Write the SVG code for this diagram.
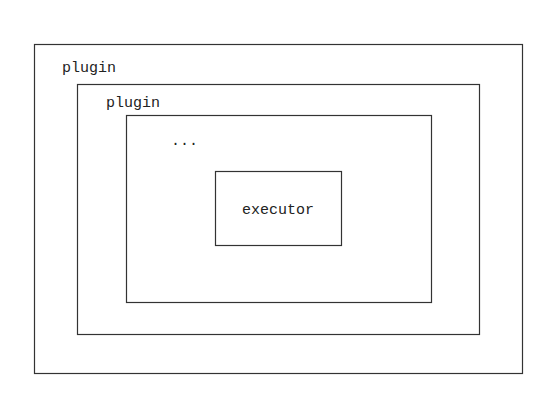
<svg xmlns="http://www.w3.org/2000/svg" width="558" height="408" viewBox="0 0 558 408">
<style>
.box{fill:none;stroke:#333;stroke-width:1.2}
.t{font-family:"Liberation Mono","DejaVu Sans Mono",monospace;font-size:15px;fill:#222}
</style>
<rect width="558" height="408" fill="#fff"/>
<g id="plugin-outer">
<rect class="box" x="34.5" y="44.5" width="488" height="329"/>
<text class="t" x="62" y="72">plugin</text>
</g>
<g id="plugin-inner">
<rect class="box" x="77.5" y="84.5" width="402" height="250"/>
<text class="t" x="106" y="107">plugin</text>
</g>
<g id="ellipsis">
<rect class="box" x="126.5" y="115.5" width="305" height="187"/>
<text class="t" x="171" y="145">...</text>
</g>
<g id="executor">
<rect class="box" x="215.5" y="171.5" width="126" height="74"/>
<text class="t" x="278" y="214" text-anchor="middle">executor</text>
</g>
<g id="connectors"/>
</svg>
